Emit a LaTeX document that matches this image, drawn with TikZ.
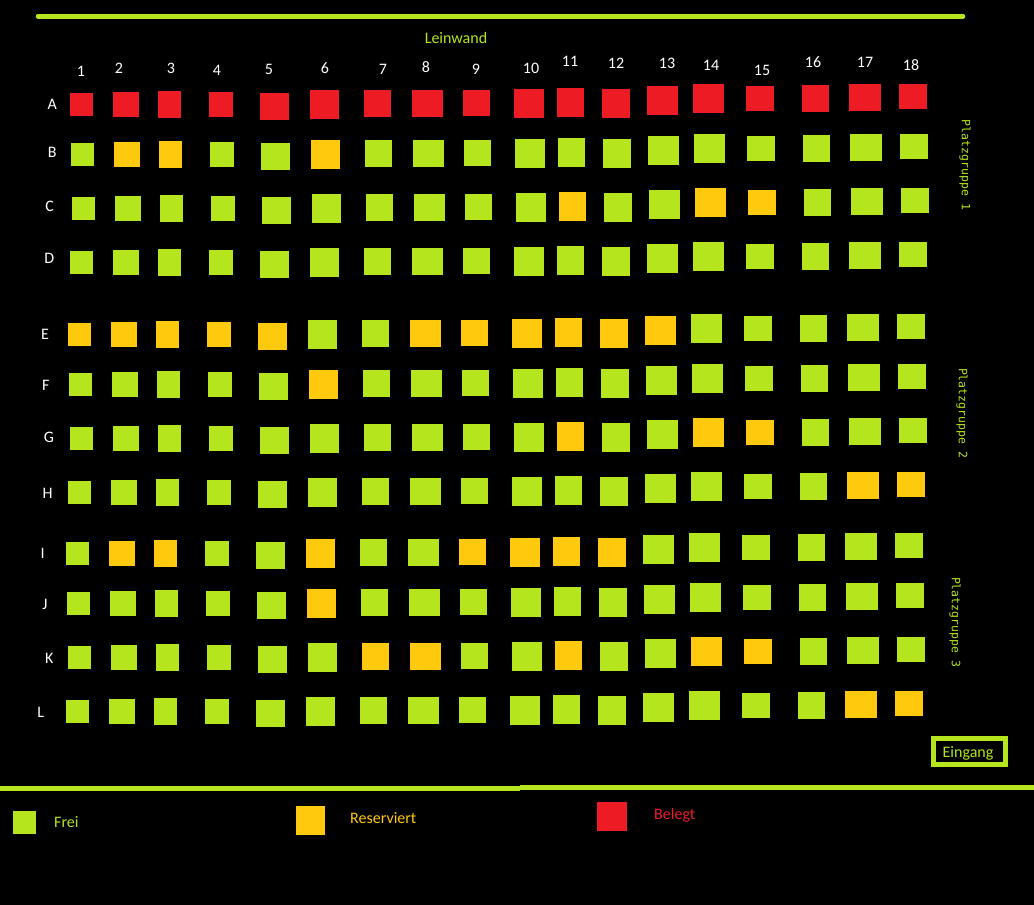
\documentclass[tikz,border=0pt]{standalone}
\usepackage{fontspec}
\setmainfont{Carlito}
\newfontfamily\grpfont{DejaVu Sans Mono}
\definecolor{seatg}{HTML}{B5E61D}
\definecolor{seato}{HTML}{FFC90E}
\definecolor{seatr}{HTML}{ED1C24}
\def\PX{{70,113,158,209,260,310,364,412,463,514,557,602,647,693,746,802,849,899}}
\def\PY{{93,92,91,92,93,90,90,90,90,89,88,89,86,84,86,85,84,84}}
\def\PW{{23,26,23,24,29,29,27,31,27,30,27,28,31,31,28,27,32,28}}
\def\PH{{23,25,27,25,27,29,27,27,26,29,29,29,29,29,25,27,27,25}}
\tikzset{
  seat/.style={rectangle, inner sep=0pt, outer sep=0pt, draw=none},
  numlabel/.style={text=white, font=\fontsize{16}{19}\selectfont, inner sep=0pt, anchor=base},
  rowlabel/.style={text=white, font=\fontsize{16}{19}\selectfont, inner sep=0pt, anchor=base},
  legtext/.style={font=\fontsize{16}{19}\selectfont, inner sep=0pt, anchor=base west},
  gruppe/.style={text=seatg, font=\grpfont\fontsize{11.5}{13}\selectfont, rotate=-90, inner sep=0pt},
  bigline/.style={draw=seatg, line width=5pt},
}
\newcommand\seatrow[4]{%
  \foreach \sc [count=\si] in {#4} {%
    \pgfmathsetmacro\sx{\PX[\si-1]+(#2)}%
    \pgfmathsetmacro\sy{\PY[\si-1]+(#3)}%
    \pgfmathsetmacro\sw{\PW[\si-1]}%
    \pgfmathsetmacro\sh{\PH[\si-1]}%
    \node[seat, fill=seat\sc, minimum width=\sw pt, minimum height=\sh pt] (seat-#1\si) at (\sx+\sw/2, \sy+\sh/2) {};
  }}
\begin{document}
\begin{tikzpicture}[x=1pt, y=-1pt]
\useasboundingbox (0,0) rectangle (1034,905);
\fill[black] (0,0) rectangle (1034,905);

% screen
\coordinate (scrL) at (38,16.3);
\coordinate (scrR) at (963,16.3);
\draw[draw=seatg, line width=4.5pt, line cap=round] (scrL) -- (scrR);
\node[legtext, anchor=base, text=seatg] (leinwand) at (456,43) {Leinwand};

% column numbers
\foreach \n/\xx/\yy in {1/81/76, 2/119/73.3, 3/171/73.3, 4/217/75, 5/269/74.3, 6/325/73.3,
  7/383/74.3, 8/426/72, 9/476/74.3, 10/531/73.3, 11/570/66.7, 12/616/68.3, 13/667/68.3,
  14/711/70.3, 15/762/75.7, 16/813/67.7, 17/865/67.7, 18/911/70.3}
  \node[numlabel] (col-\n) at (\xx,\yy) {\n};

% row letters
\foreach \r/\xx/\yy in {A/52.3/109.3, B/52.3/157.3, C/49.7/211, D/49.3/263.3,
  E/45/339.3, F/45.7/390, G/49/442.7, H/47.7/498.3,
  I/42.7/558.3, J/45/609.3, K/49.3/663.3, L/40.7/717.3}
  \node[rowlabel] (row-\r) at (\xx,\yy) {\r};

% seats
\seatrow{A}{0}{0}{r,r,r,r,r,r,r,r,r,r,r,r,r,r,r,r,r,r}
\seatrow{B}{1}{50}{g,o,o,g,g,o,g,g,g,g,g,g,g,g,g,g,g,g}
\seatrow{C}{2}{104}{g,g,g,g,g,g,g,g,g,g,o,g,g,o,o,g,g,g}
\seatrow{D}{0}{158}{g,g,g,g,g,g,g,g,g,g,g,g,g,g,g,g,g,g}
\seatrow{E}{-2}{230}{o,o,o,o,o,g,g,o,o,o,o,o,o,g,g,g,g,g}
\seatrow{F}{-1}{280}{g,g,g,g,g,o,g,g,g,g,g,g,g,g,g,g,g,g}
\seatrow{G}{0}{334}{g,g,g,g,g,g,g,g,g,g,o,g,g,o,o,g,g,g}
\seatrow{H}{-2}{388}{g,g,g,g,g,g,g,g,g,g,g,g,g,g,g,g,o,o}
\seatrow{I}{-4}{449}{g,o,o,g,g,o,g,g,o,o,o,o,g,g,g,g,g,g}
\seatrow{J}{-3}{499}{g,g,g,g,g,o,g,g,g,g,g,g,g,g,g,g,g,g}
\seatrow{K}{-2}{553}{g,g,g,g,g,g,o,o,g,g,o,g,g,o,o,g,g,g}
\seatrow{L}{-4}{607}{g,g,g,g,g,g,g,g,g,g,g,g,g,g,g,g,o,o}

% groups
\node[gruppe] (pg1) at (965,165) {Platzgruppe 1};
\node[gruppe] (pg2) at (962,413) {Platzgruppe 2};
\node[gruppe] (pg3) at (955,622) {Platzgruppe 3};

% entrance
\node[draw=seatg, line width=5pt, minimum width=72pt, minimum height=26pt, inner sep=0pt] (eingang) at (969.5,751.5) {};
\node[legtext, anchor=base, text=seatg] (eingangtext) at (968,757) {Eingang};

% separator
\coordinate (sepL) at (0,788.4);
\coordinate (sepM) at (520,788.4);
\coordinate (sepM2) at (520,787.3);
\coordinate (sepR) at (1034,787.3);
\draw[bigline] (sepL) -- (sepM);
\draw[bigline] (sepM2) -- (sepR);

% legend
\node[seat, fill=seatg, minimum width=23pt, minimum height=23pt] (leg-frei) at (24.5,822.5) {};
\node[legtext, text=seatg] (leg-frei-t) at (54,827) {Frei};
\node[seat, fill=seato, minimum width=29pt, minimum height=29pt] (leg-res) at (310.5,820.5) {};
\node[legtext, text=seato] (leg-res-t) at (350,823) {Reserviert};
\node[seat, fill=seatr, minimum width=30pt, minimum height=29pt] (leg-bel) at (612,816.5) {};
\node[legtext, text=seatr] (leg-bel-t) at (654,819) {Belegt};
\end{tikzpicture}
\end{document}
